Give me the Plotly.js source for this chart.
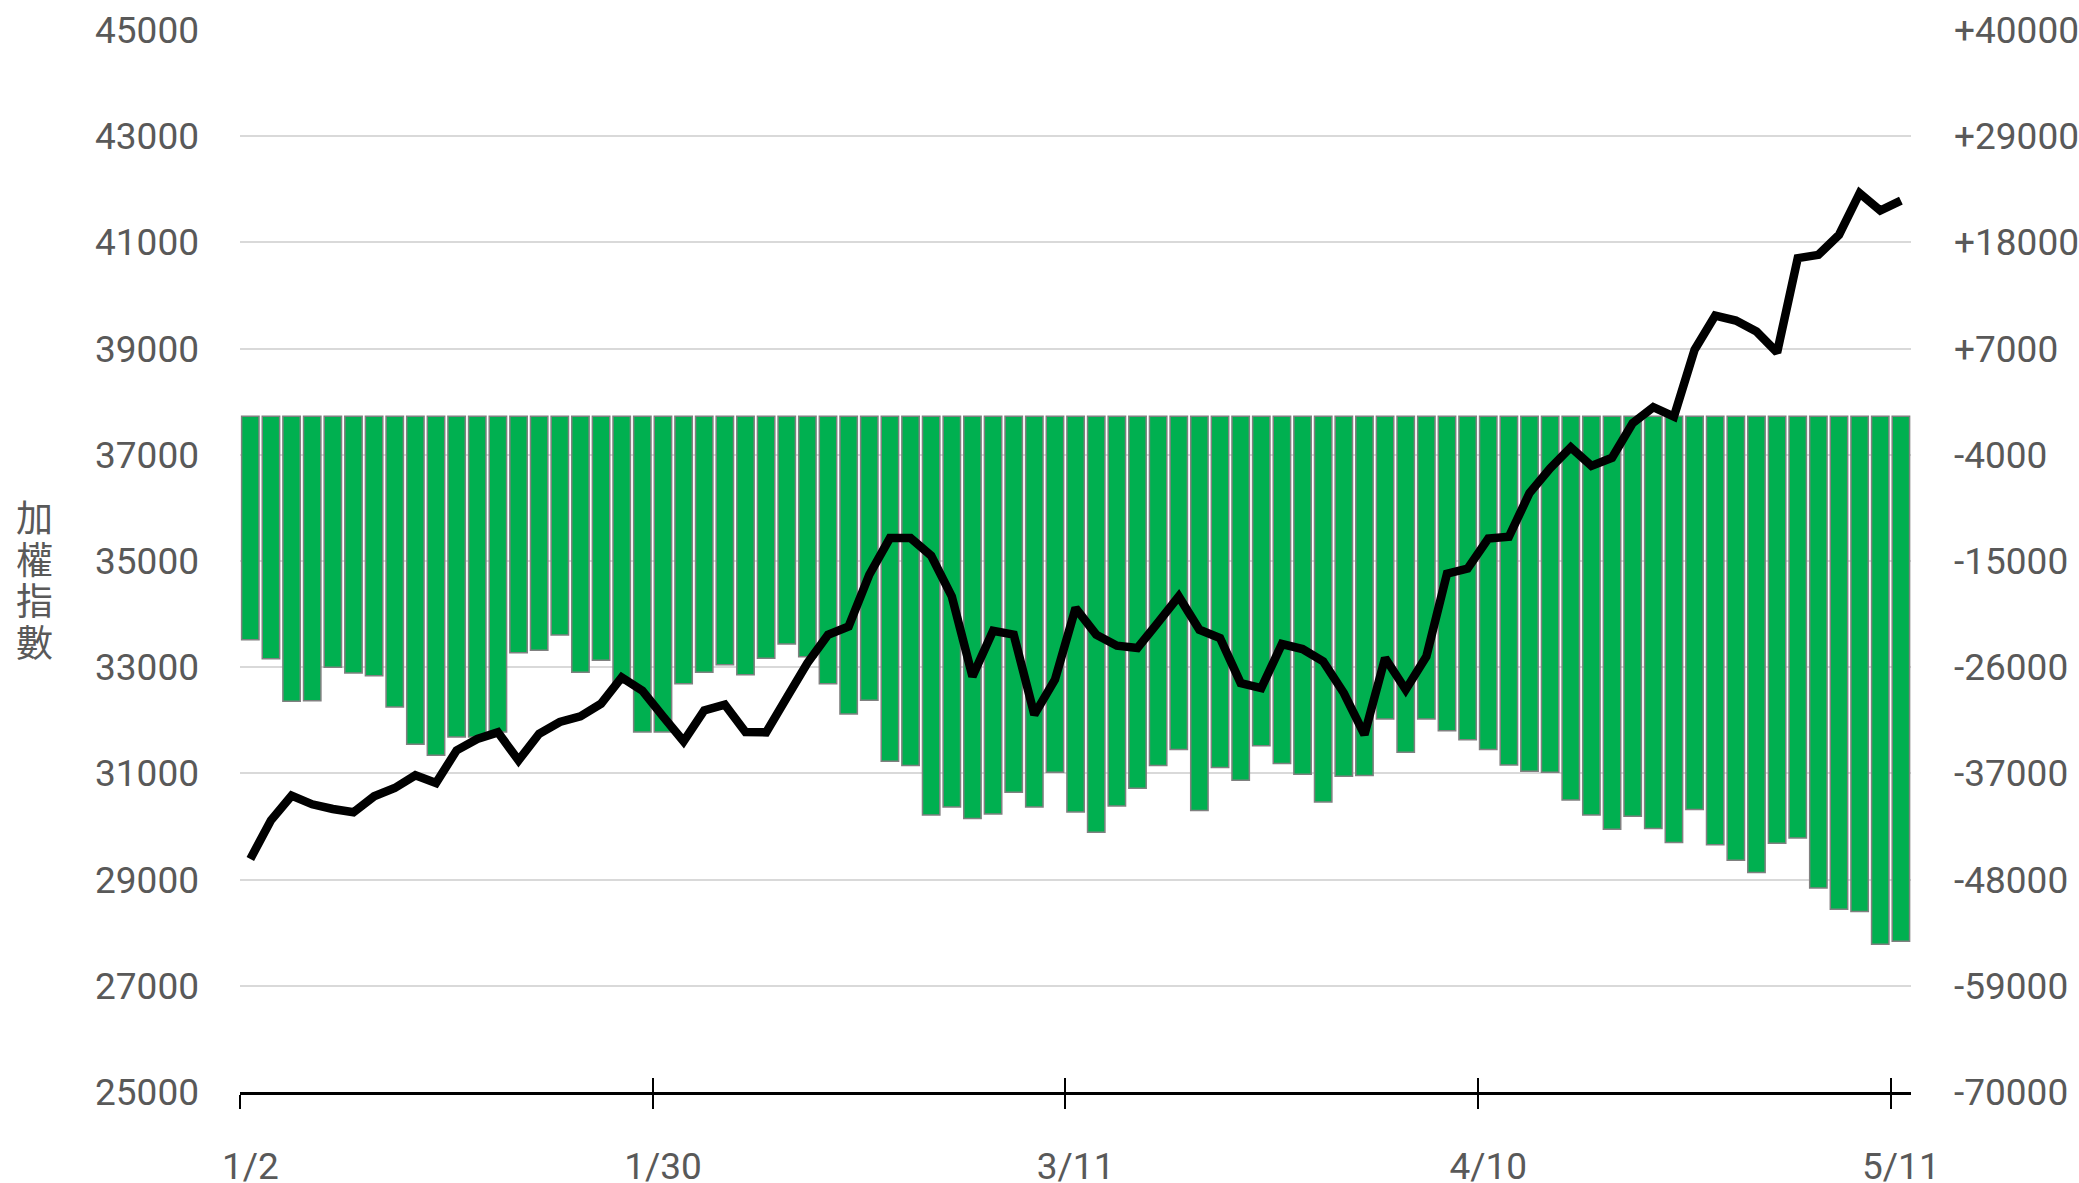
<!DOCTYPE html>
<html>
<head>
<meta charset="utf-8">
<script src="https://cdn.plot.ly/plotly-3.0.1.min.js"></script>
<style>
  html, body { margin: 0; padding: 0; background: #ffffff; }
  #chart { width: 2079px; height: 1183px; }
</style>
</head>
<body>
<div id="chart"></div>
<script>
// Trading days (category axis)
const dates = [
  '1/2','1/5','1/6','1/7','1/8','1/9','1/12','1/13','1/14','1/15','1/16',
  '1/19','1/20','1/21','1/22','1/23','1/26','1/27','1/28','1/29','1/30',
  '2/2','2/3','2/4','2/5','2/6','2/9','2/10','2/11','2/23','2/24','2/25','2/26',
  '3/2','3/3','3/4','3/5','3/6','3/9','3/10','3/11','3/12','3/13',
  '3/16','3/17','3/18','3/19','3/20','3/23','3/24','3/25','3/26','3/27','3/30','3/31',
  '4/1','4/2','4/7','4/8','4/9','4/10','4/13','4/14','4/15','4/16','4/17',
  '4/20','4/21','4/22','4/23','4/24','4/27','4/28','4/29','4/30',
  '5/4','5/5','5/6','5/7','5/8','5/11'
];

// 加權指數 (left axis)
const indexValues = [
  29389, 30116, 30581, 30418, 30330, 30267, 30568, 30725, 30964, 30820,
  31434, 31648, 31773, 31246, 31748, 31968, 32074, 32313, 32808, 32558,
  32074, 31604, 32187, 32294, 31780, 31773, 32426, 33079, 33612, 33768,
  34741, 35432, 35432, 35099, 34333, 32827, 33687, 33612, 32106, 32765,
  34114, 33612, 33405, 33361, 33844, 34333, 33706, 33549, 32702, 32608,
  33436, 33342, 33110, 32514, 31729, 33173, 32576, 33200, 34760, 34858,
  35421, 35455, 36281, 36744, 37141, 36791, 36944, 37597, 37898, 37721,
  38977, 39623, 39529, 39322, 38927, 40703, 40765, 41141, 41926, 41600,
  41788
];

// Bar series (right axis)
const barValues = [
  -23149, -25117, -29537, -29465, -26017, -26597, -26877, -30117, -33989, -35128,
  -33223, -33223, -32705, -24495, -24257, -22663, -26535, -25293, -27633, -32705,
  -32705, -27705, -26535, -25737, -26773, -25085, -23594, -24910, -27705, -30842,
  -29434, -35749, -36194, -41298, -40471, -41681, -41195, -38958, -40471, -36887,
  -40988, -43100, -40367, -38544, -36194, -34537, -40853, -36401, -37716, -34124,
  -35987, -37094, -39952, -37302, -37230, -31359, -34817, -31359, -32591, -33503,
  -34524, -36122, -36784, -36887, -39766, -41298, -42789, -41443, -42717, -44166,
  -40750, -44384, -45988, -47262, -44239, -43700, -48866, -51082, -51310, -54695,
  -54395
];

// Tick labels
const xTickLabels = ['1/2', '1/30', '3/11', '4/10', '5/11'];
const rightTickVals = [-70000, -59000, -48000, -37000, -26000, -15000, -4000, 7000, 18000, 29000, 40000];
const leftTickVals = [25000, 27000, 29000, 31000, 33000, 35000, 37000, 39000, 41000, 43000, 45000];
const yTitle = '加權指數';

const fontFamily = 'Roboto, "Noto Sans", sans-serif';
const labelColor = '#595959';
const tickFontSize = 37;

const rightTickText = rightTickVals.map(v => (v > 0 ? '+' : '') + String(v));
// upper end pulled in a hair so no boundary tick is drawn at the right plot edge
const catRange = [-0.5, dates.length - 0.51];

const traces = [
  {
    type: 'bar',
    x: dates,
    y: barValues,
    xaxis: 'x',
    yaxis: 'y',
    marker: { color: '#00b050', line: { color: '#808080', width: 1.5 } },
    showlegend: false
  },
  {
    type: 'scatter',
    mode: 'lines',
    x: dates,
    y: indexValues,
    xaxis: 'x2',
    yaxis: 'y2',
    line: { color: '#000000', width: 8.5 },
    showlegend: false
  }
];

const titleChars = Array.from(yTitle);
const annotations = titleChars.map((ch, k) => ({
  text: ch,
  xref: 'paper', yref: 'paper',
  x: -0.123, y: 0.4835,
  xanchor: 'center', yanchor: 'middle',
  yshift: ((titleChars.length - 1) / 2 - k) * 41.7,
  showarrow: false,
  font: { family: '"Noto Sans CJK TC", "Noto Sans CJK SC", sans-serif', size: 37, color: labelColor }
}));

const layout = {
  width: 2079,
  height: 1183,
  margin: { l: 240, r: 168, t: 30, b: 91, pad: 0 },
  paper_bgcolor: '#ffffff',
  plot_bgcolor: '#ffffff',
  bargap: 0.157,
  showlegend: false,
  font: { family: fontFamily, size: tickFontSize, color: labelColor },
  xaxis: {
    type: 'category',
    categoryorder: 'array',
    categoryarray: dates,
    range: catRange,
    tickmode: 'array',
    tickvals: xTickLabels,
    ticktext: xTickLabels,
    tickson: 'boundaries',
    tickangle: 0,
    ticks: 'outside',
    ticklen: 14,
    tickwidth: 2,
    tickcolor: '#000000',
    ticklabelstandoff: 40,
    tickfont: { family: fontFamily, size: tickFontSize, color: labelColor },
    showgrid: false,
    zeroline: false,
    showline: true,
    linecolor: '#000000',
    linewidth: 2.5,
    automargin: false
  },
  xaxis2: {
    type: 'category',
    overlaying: 'x',
    anchor: 'y2',
    side: 'bottom',
    categoryorder: 'array',
    categoryarray: dates,
    range: catRange,
    tickmode: 'array',
    tickvals: xTickLabels,
    tickson: 'boundaries',
    ticks: 'inside',
    ticklen: 14,
    tickwidth: 2,
    tickcolor: '#000000',
    showticklabels: false,
    showgrid: false,
    zeroline: false,
    showline: false,
    automargin: false
  },
  yaxis: {
    side: 'right',
    range: [rightTickVals[0], rightTickVals[rightTickVals.length - 1]],
    tickmode: 'array',
    tickvals: rightTickVals,
    ticktext: rightTickText,
    ticks: '',
    ticklabelstandoff: 42,
    tickfont: { family: fontFamily, size: tickFontSize, color: labelColor },
    showgrid: true,
    gridcolor: '#d9d9d9',
    gridwidth: 2,
    zeroline: false,
    showline: false,
    automargin: false
  },
  yaxis2: {
    side: 'left',
    overlaying: 'y',
    anchor: 'x2',
    range: [leftTickVals[0], leftTickVals[leftTickVals.length - 1]],
    tickmode: 'array',
    tickvals: leftTickVals,
    ticktext: leftTickVals.map(v => String(v)),
    ticks: '',
    ticklabelstandoff: 40,
    tickfont: { family: fontFamily, size: tickFontSize, color: labelColor },
    showgrid: false,
    zeroline: false,
    showline: false,
    automargin: false
  },
  annotations: annotations
};

Plotly.newPlot('chart', traces, layout, { displayModeBar: false, staticPlot: true });
</script>
</body>
</html>
